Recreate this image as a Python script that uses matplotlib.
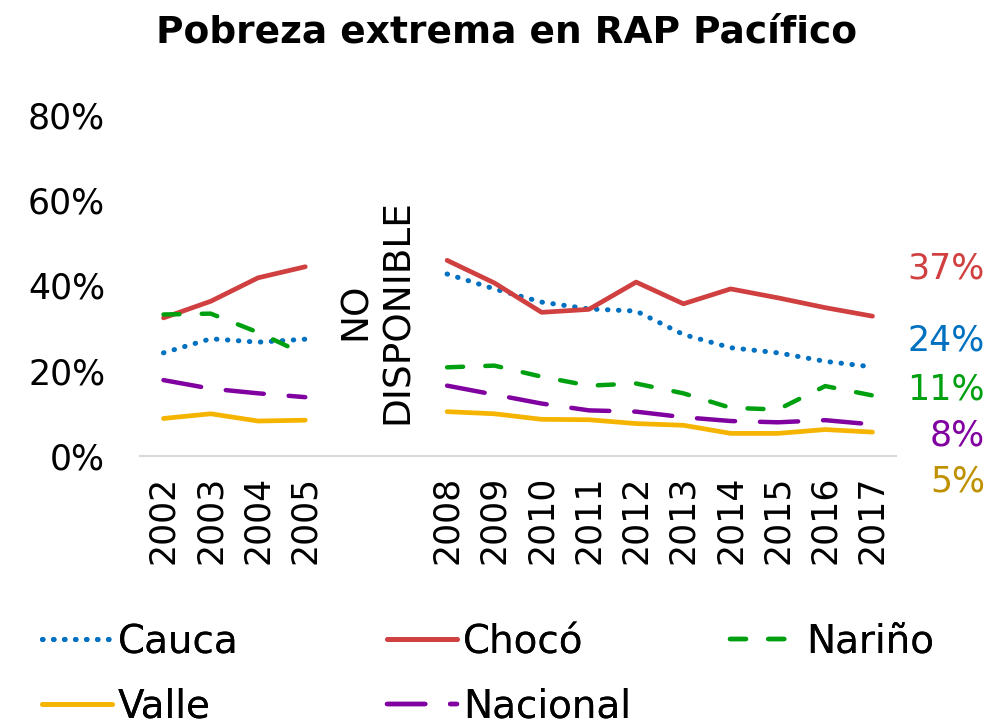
import numpy as np
import matplotlib
matplotlib.use('Agg')
import matplotlib.pyplot as plt

plt.rcParams['font.family'] = ['DejaVu Sans']

# years 2006 and 2007 have no data (NO DISPONIBLE)
years = ['2002', '2003', '2004', '2005', '2006', '2007', '2008', '2009',
         '2010', '2011', '2012', '2013', '2014', '2015', '2016', '2017']
nan = np.nan
cauca    = [24.2, 27.5, 26.7, 27.4, nan, nan, 42.7, 39.2, 36.1, 34.5, 34.0, 28.5, 25.4, 24.2, 22.2, 20.9]
choco    = [32.4, 36.3, 41.8, 44.4, nan, nan, 45.9, 40.6, 33.7, 34.4, 40.8, 35.7, 39.2, 37.1, 34.8, 32.8]
narino   = [33.2, 33.4, 29.0, 23.8, nan, nan, 20.8, 21.2, 18.6, 16.5, 17.0, 14.7, 11.3, 10.9, 16.4, 14.2]
valle    = [8.8, 9.9, 8.2, 8.4, nan, nan, 10.4, 9.9, 8.6, 8.5, 7.6, 7.2, 5.3, 5.3, 6.2, 5.6]
nacional = [17.8, 15.8, 14.7, 13.8, nan, nan, 16.5, 14.4, 12.3, 10.7, 10.4, 9.1, 8.2, 7.9, 8.4, 7.4]

end_labels = ['37%', '24%', '11%', '8%', '5%']
end_y = [44.1, 27.2, 15.5, 4.7, -6.1]

c_cauca = '#0070c0'
c_choco = '#d04040'
c_narino = '#00a010'
c_valle = '#f5b400'
c_nacional = '#8000a0'
c_end = [c_choco, c_cauca, c_narino, c_nacional, '#bf9000']

fig = plt.figure(figsize=(9.99, 7.27), dpi=100)
ax = fig.add_axes([0.140, 0.3728, 0.757, 0.469])

x = np.arange(len(years))
l_cauca, = ax.plot(x, cauca, color=c_cauca, lw=3.6, dashes=(0.1, 2.1), dash_capstyle='round', label='Cauca')
l_choco, = ax.plot(x, choco, color=c_choco, lw=3.4, solid_capstyle='round', label='Chocó')
l_narino, = ax.plot(x, narino, color=c_narino, lw=3.2, dashes=(3.6, 5.0), dash_capstyle='round', label='Nariño')
l_valle, = ax.plot(x, valle, color=c_valle, lw=3.4, solid_capstyle='round', label='Valle')
l_nac, = ax.plot(x, nacional, color=c_nacional, lw=3.2, dashes=(8.6, 5.6), dash_capstyle='round', label='Nacional')

ax.set_xlim(-0.5, len(years) - 0.5)
ax.set_ylim(0, 80)
ax.set_yticks([0, 20, 40, 60, 80])
ax.set_yticklabels(['0%', '20%', '40%', '60%', '80%'], fontsize=25)
ticklabels = [y if not np.isnan(choco[i]) else '' for i, y in enumerate(years)]
ax.set_xticks(x)
ax.set_xticklabels(ticklabels, rotation=90, fontsize=25)
ax.tick_params(length=0)
ax.tick_params(axis='x', pad=14)
ax.tick_params(axis='y', pad=25)
for s in ['top', 'right', 'left']:
    ax.spines[s].set_visible(False)
ax.spines['bottom'].set_color('#d9d9d9')
ax.spines['bottom'].set_linewidth(1.5)

# gap annotation
ax.text(4.52, 34, 'NO\nDISPONIBLE', rotation=90, ha='center', va='center',
        fontsize=27, linespacing=1.2)

for lab, yv, col in zip(end_labels, end_y, c_end):
    ax.text(17.38, yv, lab, color=col, fontsize=25, ha='right', va='center', clip_on=False)

fig.text(0.507, 0.955, 'Pobreza extrema en RAP Pacífico', fontsize=27, fontweight='bold',
         ha='center', va='center')

# legend: three columns placed by hand
cols = [([l_cauca, l_valle], 42), ([l_choco, l_nac], 387), ([l_narino], 730)]
for handles, xpx in cols:
    leg = fig.legend(handles=handles, loc='upper left', bbox_to_anchor=(xpx / 999, 1 - 623 / 727),
                     frameon=False, fontsize=28, handlelength=1.8, handletextpad=0.15,
                     labelspacing=0.68, borderpad=0, borderaxespad=0)
    fig.add_artist(leg)

fig.savefig('out.png', dpi=100)
